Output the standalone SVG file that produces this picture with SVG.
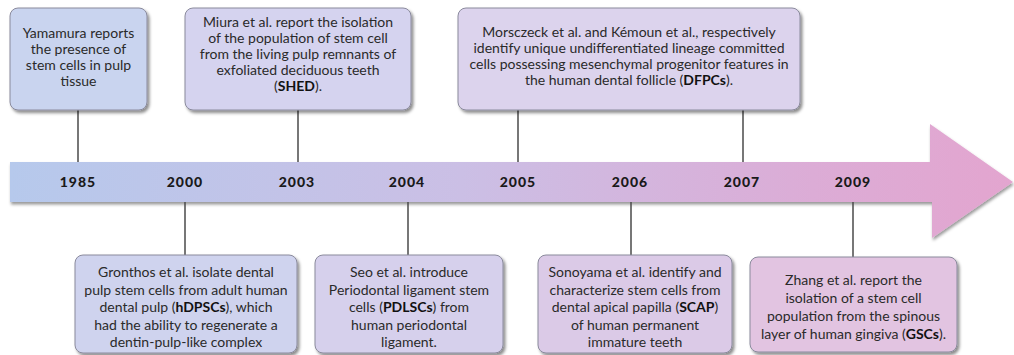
<svg xmlns="http://www.w3.org/2000/svg" width="1014" height="355" viewBox="0 0 1014 355">
  <defs>
    <linearGradient id="bandFill" x1="10" y1="0" x2="1014" y2="0" gradientUnits="userSpaceOnUse">
      <stop offset="0" stop-color="#b6c9ec"/>
      <stop offset="0.45" stop-color="#cbbfe5"/>
      <stop offset="0.8" stop-color="#dcacd6"/>
      <stop offset="1" stop-color="#e3a5cf"/>
    </linearGradient>
    <filter id="shadow" x="-10%" y="-10%" width="120%" height="130%">
      <feDropShadow dx="2" dy="2.5" stdDeviation="1.5" flood-color="#000" flood-opacity="0.45"/>
    </filter>
    <filter id="bandShadow" x="-5%" y="-20%" width="110%" height="150%">
      <feDropShadow dx="1" dy="2.5" stdDeviation="1.5" flood-color="#000" flood-opacity="0.4"/>
    </filter>
  </defs>
  <style>
    .box { stroke: #8a8a9c; stroke-width: 1; filter: url(#shadow); }
    .t { font-family: Lato, "Liberation Sans", sans-serif; font-size: 14px; fill: #2a2a2a; text-anchor: middle; }
    .b { font-weight: bold; fill: #111; }
    .yr { font-family: Lato, "Liberation Sans", sans-serif; font-size: 14px; font-weight: 900; fill: #1a1a1a; text-anchor: middle; letter-spacing: 1px; }
    .conn line { stroke: #4a4a4a; stroke-width: 1.5; }
  </style>
  <rect width="1014" height="355" fill="#ffffff"/>

  <!-- timeline arrow -->
  <g id="timeline">
    <path d="M10 162 H930 V124 L1013 182 L932 238 V202 H10 Z" fill="url(#bandFill)" filter="url(#bandShadow)"/>
    <text class="yr" x="78" y="187">1985</text>
    <text class="yr" x="185" y="187">2000</text>
    <text class="yr" x="297" y="187">2003</text>
    <text class="yr" x="407" y="187">2004</text>
    <text class="yr" x="518" y="187">2005</text>
    <text class="yr" x="630" y="187">2006</text>
    <text class="yr" x="742" y="187">2007</text>
    <text class="yr" x="853" y="187">2009</text>
  </g>

  <!-- connectors from events to the timeline -->
  <g id="connectors" class="conn">
    <line x1="78" y1="110" x2="78" y2="162"/>
    <line x1="298" y1="110" x2="298" y2="162"/>
    <line x1="518" y1="110" x2="518" y2="162"/>
    <line x1="743" y1="110" x2="743" y2="162"/>
    <line x1="185" y1="202" x2="185" y2="255"/>
    <line x1="408" y1="202" x2="408" y2="255"/>
    <line x1="631" y1="202" x2="631" y2="255"/>
    <line x1="853" y1="202" x2="853" y2="257"/>
  </g>

  <g id="node-1985">
    <rect class="box" x="10" y="8" width="137" height="102" rx="8" fill="#c9d4ef"/>
    <text class="t" x="78.5" y="38">Yamamura reports</text>
    <text class="t" x="78.5" y="54">the presence of</text>
    <text class="t" x="78.5" y="70">stem cells in pulp</text>
    <text class="t" x="78.5" y="86">tissue</text>
  </g>

  <g id="node-2003">
    <rect class="box" x="185" y="8" width="226" height="102" rx="8" fill="#d5d3ef"/>
    <text class="t" x="298" y="27">Miura et al. report the isolation</text>
    <text class="t" x="298" y="43">of the population of stem cell</text>
    <text class="t" x="298" y="59">from the living pulp remnants of</text>
    <text class="t" x="298" y="75">exfoliated deciduous teeth</text>
    <text class="t" x="298" y="91">(<tspan class="b">SHED</tspan>).</text>
  </g>

  <g id="node-2005-2007">
    <rect class="box" x="458" y="8" width="342" height="102" rx="8" fill="#dcd3ed"/>
    <text class="t" x="629" y="37">Morsczeck et al. and Kémoun et al., respectively</text>
    <text class="t" x="629" y="53">identify unique undifferentiated lineage committed</text>
    <text class="t" x="629" y="69">cells possessing mesenchymal progenitor features in</text>
    <text class="t" x="629" y="85">the human dental follicle (<tspan class="b">DFPCs</tspan>).</text>
  </g>

  <g id="node-2000">
    <rect class="box" x="75" y="255" width="222" height="98" rx="8" fill="#cfd3ee"/>
    <text class="t" x="186" y="277">Gronthos et al. isolate dental</text>
    <text class="t" x="186" y="294.5">pulp stem cells from adult human</text>
    <text class="t" x="186" y="312">dental pulp (<tspan class="b">hDPSCs</tspan>), which</text>
    <text class="t" x="186" y="329.5">had the ability to regenerate a</text>
    <text class="t" x="186" y="347">dentin-pulp-like complex</text>
  </g>

  <g id="node-2004">
    <rect class="box" x="315" y="255" width="188" height="98" rx="8" fill="#d6d0ec"/>
    <text class="t" x="409" y="277">Seo et al. introduce</text>
    <text class="t" x="409" y="294.5">Periodontal ligament stem</text>
    <text class="t" x="409" y="312">cells (<tspan class="b">PDLSCs</tspan>) from</text>
    <text class="t" x="409" y="329.5">human periodontal</text>
    <text class="t" x="409" y="347">ligament.</text>
  </g>

  <g id="node-2006">
    <rect class="box" x="538" y="255" width="194" height="98" rx="8" fill="#dbcae7"/>
    <text class="t" x="635" y="277">Sonoyama et al. identify and</text>
    <text class="t" x="635" y="294.5">characterize stem cells from</text>
    <text class="t" x="635" y="312">dental apical papilla (<tspan class="b">SCAP</tspan>)</text>
    <text class="t" x="635" y="329.5">of human permanent</text>
    <text class="t" x="635" y="347">immature teeth</text>
  </g>

  <g id="node-2009">
    <rect class="box" x="750" y="257" width="207" height="95" rx="8" fill="#e2c4e1"/>
    <text class="t" x="853.5" y="285">Zhang et al.  report the</text>
    <text class="t" x="853.5" y="303">isolation of a stem cell</text>
    <text class="t" x="853.5" y="321">population from the spinous</text>
    <text class="t" x="853.5" y="339">layer of human gingiva (<tspan class="b">GSCs</tspan>).</text>
  </g>
</svg>
